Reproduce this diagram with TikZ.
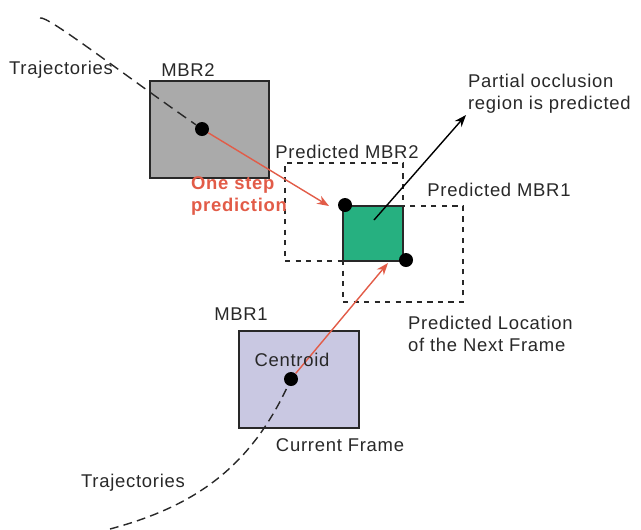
\documentclass[tikz,border=0pt]{standalone}
\usepackage{fontspec}
\setmainfont[LetterSpace=4]{Liberation Sans}
\usetikzlibrary{arrows.meta,positioning}
\definecolor{boxgray}{RGB}{170,170,170}
\definecolor{lavender}{RGB}{201,200,226}
\definecolor{occl}{RGB}{38,176,128}
\definecolor{pred}{RGB}{226,92,72}
\definecolor{ink}{RGB}{40,40,40}
\tikzset{
  >={Stealth[length=2.4mm,width=1.8mm]},
  mbr/.style={draw=ink,fill=#1,inner sep=0pt,thick},
  mbr/.default=boxgray,
  predbox/.style={draw=ink,dashed,thick,inner sep=0pt},
  dot/.style={circle,fill=black,inner sep=0pt,minimum size=2.8mm},
  lbl/.style={font=\fontsize{10.5}{12.5}\selectfont,text=ink,align=left,inner sep=1pt},
  step note/.style={font=\fontsize{10.5}{12.5}\selectfont\bfseries,text=pred,align=left,inner sep=1pt},
  move/.style={->,draw=pred,thick},
  traj/.style={draw=ink,thick,dash pattern=on 5pt off 3pt},
}

\begin{document}
\begin{tikzpicture}[x=0.02cm,y=-0.02cm]
  \useasboundingbox (0,0) rectangle (641,529);
  % boxes
  \node[mbr,minimum width=2.38cm,minimum height=1.94cm] (mbr2) at (209.5,129.5) {};
  \node[mbr=lavender,minimum width=2.4cm,minimum height=1.94cm] (mbr1) at (299,379.5) {};
  \node[predbox,minimum width=2.36cm,minimum height=1.96cm] (pmbr2) at (344,212) {};
  \node[predbox,minimum width=2.4cm,minimum height=1.92cm] (pmbr1) at (403,254) {};
  \node[mbr=occl,minimum width=1.2cm,minimum height=1.1cm] (overlap) at (373,233.5) {};
  % centroids
  \node[dot] (c2) at (202,129) {};
  \node[dot] (c1) at (291,379) {};
  \node[dot] (p2) at (345,205) {};
  \node[dot] (p1) at (406,260) {};
  \coordinate (tip2) at (329,206);
  \coordinate (tip1) at (388,263);
  \coordinate (occ) at (374,220);
  \coordinate (trajA) at (40,18);
  \coordinate (trajB) at (110,529);
  % trajectories
  \draw[traj,dash pattern=on 6pt off 3.5pt] (trajA) .. controls (47,15) and (120,72) .. (c2);
  \draw[traj] (trajB) to[out=15,in=245] (c1);
  % predictions
  \draw[move] (c2) -- (tip2);
  \draw[move] (c1) -- (tip1);
  \node[lbl,anchor=south west] (occlbl) at (466,115) {Partial occlusion\\region is predicted};
  \draw[->,thick,draw=black] (occ) -- (occlbl.south west);
  % labels
  \node[lbl] (trajtop) at (61,70) {Trajectories};
  \node[lbl] (trajbot) at (133,483) {Trajectories};
  \node[lbl] (mbr2lbl) at (188,70) {MBR2};
  \node[lbl] (mbr1lbl) at (241,314) {MBR1};
  \node[lbl] (cenlbl) at (292,360) {Centroid};
  \node[step note] (steplbl) at (239,196) {One step\\prediction};
  \node[lbl] (pm2lbl) at (347,152) {Predicted MBR2};
  \node[lbl] (pm1lbl) at (499,190) {Predicted MBR1};
  \node[lbl,anchor=west] (nextlbl) at (406,334) {Predicted Location\\of the Next Frame};
  \node[lbl] (curlbl) at (340,445) {Current Frame};
\end{tikzpicture}
\end{document}
